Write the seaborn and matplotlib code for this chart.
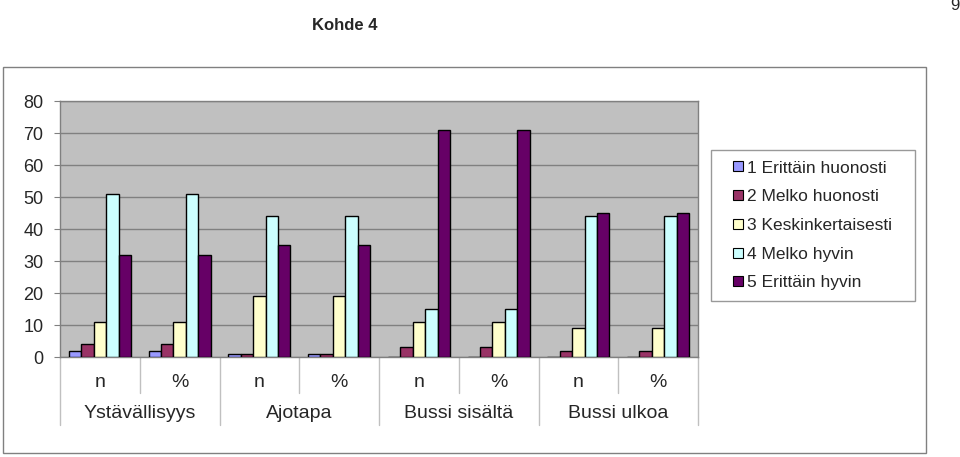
import matplotlib
matplotlib.use("Agg")
import matplotlib.pyplot as plt
import seaborn as sns
import pandas as pd
from matplotlib.patches import Rectangle
from matplotlib.lines import Line2D

groups = ["Ystävällisyys", "Ajotapa", "Bussi sisältä", "Bussi ulkoa"]
subs = ["n", "%"]
series = ["1 Erittäin huonosti", "2 Melko huonosti", "3 Keskinkertaisesti",
          "4 Melko hyvin", "5 Erittäin hyvin"]
v_erittain_huonosti = [2, 2, 1, 1, 0, 0, 0, 0]
v_melko_huonosti = [4, 4, 1, 1, 3, 3, 2, 2]
v_keskinkertaisesti = [11, 11, 19, 19, 11, 11, 9, 9]
v_melko_hyvin = [51, 51, 44, 44, 15, 15, 44, 44]
v_erittain_hyvin = [32, 32, 35, 35, 71, 71, 45, 45]
colors = ["#9999FF", "#993366", "#FFFFCC", "#CCFFFF", "#660066"]

cats = [f"{g}|{s}" for g in groups for s in subs]
vals = [v_erittain_huonosti, v_melko_huonosti, v_keskinkertaisesti,
        v_melko_hyvin, v_erittain_hyvin]
rows = []
for sname, sv in zip(series, vals):
    for c, v in zip(cats, sv):
        rows.append({"cat": c, "series": sname, "value": v})
df = pd.DataFrame(rows)

sns.set_style("white")
plt.rcParams["font.family"] = ["Liberation Sans", "DejaVu Sans"]

fig = plt.figure(figsize=(9.6, 4.57), dpi=100)
W, H = 960, 457
ax = fig.add_axes([60 / W, 1 - 357 / H, (698 - 60) / W, (357 - 101) / H])
ax.set_facecolor("#C0C0C0")

sns.barplot(data=df, x="cat", y="value", hue="series", order=cats,
            hue_order=series, palette=colors, edgecolor="black",
            linewidth=1.0, width=0.78, saturation=1, ax=ax, legend=False,
            zorder=3)

ax.set_ylim(0, 80)
ax.set_xlim(-0.5, len(cats) - 0.5)
ax.set_yticks(range(0, 81, 10))
ax.tick_params(axis="y", labelsize=13, length=4, color="#808080", left=True,
               pad=8)
ax.yaxis.grid(True, color="#808080", linewidth=1, zorder=0)
ax.set_axisbelow(True)
ax.set_xticks([])
ax.set_xlabel("")
ax.set_ylabel("")
for s in ax.spines.values():
    s.set_color("#808080")
    s.set_linewidth(1)

# category labels
for i, c in enumerate(cats):
    ax.text(i, -0.098, c.split("|")[1], transform=ax.get_xaxis_transform(),
            ha="center", va="center", fontsize=14)
for gi, g in enumerate(groups):
    ax.text(gi * 2 + 0.5, -0.219, g, transform=ax.get_xaxis_transform(),
            ha="center", va="center", fontsize=14)
# separators
for i in range(len(cats) + 1):
    x = i - 0.5
    depth = -0.266 if i % 2 == 0 else -0.14
    ax.plot([x, x], [0, depth], transform=ax.get_xaxis_transform(),
            color="#C0C0C0", linewidth=1, clip_on=False)

# legend
handles = [Line2D([], [], marker="s", linestyle="none", markerfacecolor=c,
                  markeredgecolor="black", markersize=6.5,
                  markeredgewidth=0.8) for c in colors]
leg = fig.legend(handles, series, loc="upper left", mode="expand",
                 bbox_to_anchor=(711 / W, 1 - 302 / H, 204 / W, 152 / H),
                 frameon=True, fontsize=12.5, handlelength=1.9,
                 handletextpad=-0.4, labelspacing=0.78, borderpad=0.6,
                 borderaxespad=0, fancybox=False)
leg.get_frame().set_edgecolor("#808080")
leg.get_frame().set_linewidth(1)

# outer frame
fig.patches.append(Rectangle((3 / W, 1 - 453 / H), (926 - 3) / W,
                             (453 - 67) / H, transform=fig.transFigure,
                             fill=False, edgecolor="#808080", linewidth=1))

fig.text(345 / W, 1 - 26 / H, "Kohde 4", ha="center", va="center",
         fontsize=12, fontweight="bold")
fig.text(955 / W, 1 - 6 / H, "9", ha="center", va="center", fontsize=12)

fig.savefig("out.png", dpi=100)
